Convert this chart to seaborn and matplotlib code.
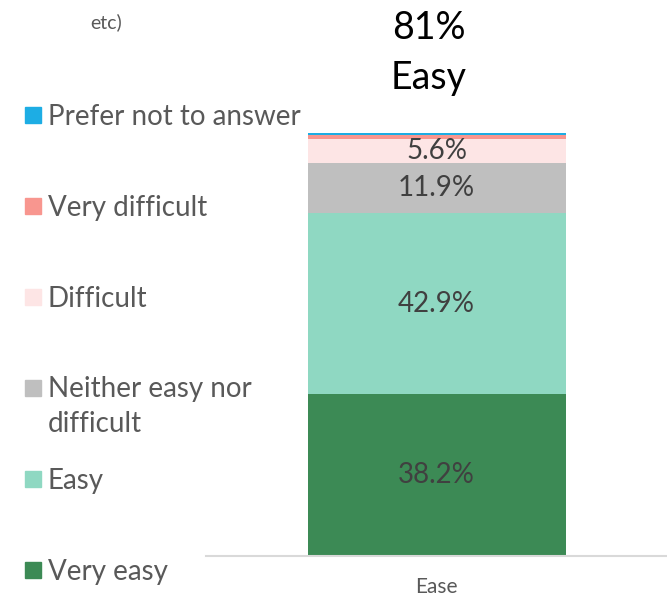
import pandas as pd
import matplotlib.pyplot as plt
from matplotlib.patches import Rectangle
import seaborn as sns

# Survey answers, bottom of the stack first
categories = ["Very easy", "Easy", "Neither easy nor\ndifficult", "Difficult",
              "Very difficult", "Prefer not to answer"]
shares = [38.2, 42.9, 11.9, 5.6, 0.9, 0.5]
colors = ["#3C8A55", "#8FD8C2", "#BFBFBF", "#FDE5E5", "#F8968F", "#1DADE4"]
question = "Ease"
headline_value = "81%"
headline_label = "Easy"
cut_title = "etc)"

sns.set_style("white")
plt.rcParams["font.family"] = ["Lato", "DejaVu Sans"]

fig = plt.figure(figsize=(6.67, 6.05), dpi=100)
ax = fig.add_axes([0.309, 0.081, 0.691, 0.699])

# stacked single bar, one barplot call per segment
bottom = 0
for cat, val, col in zip(categories, shares, colors):
    seg = pd.DataFrame({"question": [question], "share": [val]})
    sns.barplot(data=seg, x="question", y="share", color=col, saturation=1,
                width=0.56, bottom=bottom, errorbar=None, linewidth=0, ax=ax)
    bottom += val

for cont, val in zip(ax.containers, shares):
    lab = f"{val:.1f}%" if val >= 5 else ""
    ax.bar_label(cont, labels=[lab], label_type="center", color="#404040", fontsize=20)

ax.set_ylim(0, 100)
ax.set_yticks([])
ax.set_xlabel("")
ax.set_ylabel("")
sns.despine(ax=ax, left=True)
ax.spines["bottom"].set_color("#D9D9D9")
ax.spines["bottom"].set_linewidth(1.5)
ax.tick_params(axis="x", length=0, labelsize=15, colors="#595959", pad=15)

# legend on the left, evenly spaced rows like the original
W, H = 667, 605
line_gap = 34
for i, (cat, col) in enumerate(zip(categories[::-1], colors[::-1])):
    yc = 115 + 91 * i
    fig.patches.append(Rectangle((25 / W, 1 - (yc + 8) / H), 16 / W, 16 / H,
                                 transform=fig.transFigure, color=col))
    extra = line_gap * cat.count("\n")  # baseline sits on the last line
    fig.text(48 / W, 1 - (yc + 10 + extra) / H, cat, fontsize=20, color="#595959",
             va="baseline", ha="left", linespacing=1.45)

# headline and the cut-off chart title
fig.text(429 / W, 1 - 28 / H, headline_value, fontsize=27, color="black", ha="center", va="center")
fig.text(429 / W, 1 - 78 / H, headline_label, fontsize=27, color="black", ha="center", va="center")
fig.text(90 / W, 1 - 22 / H, cut_title, fontsize=14, color="#595959", ha="left", va="center")

fig.savefig("out.png", dpi=100)
